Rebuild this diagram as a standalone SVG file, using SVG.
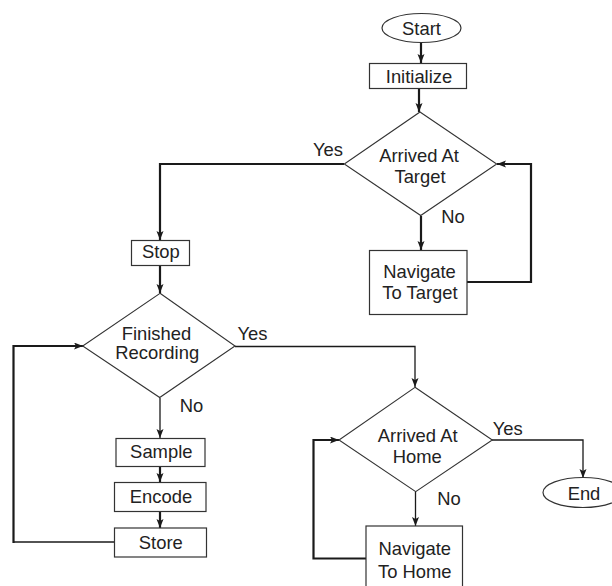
<svg xmlns="http://www.w3.org/2000/svg" width="612" height="586" viewBox="0 0 612 586">
<style>
  .box{fill:#fff;stroke:#333;stroke-width:1.2}
  .dia{fill:#fff;stroke:#333;stroke-width:1.1}
  .t{font-family:"Liberation Sans",Arial,sans-serif;font-size:18.4px;fill:#222;text-anchor:middle}
  .thick{fill:none;stroke:#1a1a1a;stroke-width:2.2}
  .thin{fill:none;stroke:#1a1a1a;stroke-width:1.3}
  .arr{marker-end:url(#ah)}
</style>
<defs>
  <marker id="ah" markerUnits="userSpaceOnUse" markerWidth="10" markerHeight="8" refX="9" refY="3.5" orient="auto">
    <path d="M0,0 L9,3.5 L0,7 L2,3.5 z" fill="#1a1a1a"/>
  </marker>
</defs>
<rect width="612" height="586" fill="#fff"/>
<g id="connectors">
  <line class="thick arr" x1="421" y1="43" x2="421" y2="63"/>
  <line class="thick arr" x1="419" y1="88" x2="419" y2="112"/>
  <polyline class="thick arr" points="344,164 160,164 160,240"/>
  <line class="thick arr" x1="421" y1="216" x2="421" y2="250"/>
  <polyline class="thick arr" points="467,282 531,282 531,164 497,164"/>
  <line class="thick arr" x1="160" y1="265" x2="160" y2="293"/>
  <polyline class="thin arr" points="235,346.5 415,346.5 415,387"/>
  <line class="thin arr" x1="160" y1="398" x2="160" y2="438"/>
  <line class="thick arr" x1="160" y1="467" x2="160" y2="482"/>
  <line class="thick arr" x1="160" y1="512" x2="160" y2="528"/>
  <polyline class="thin" points="114,542 13.5,542"/>
  <polyline class="thick arr" points="13.5,543 13.5,346 83,346"/>
  <polyline class="thin arr" points="492,440 583,440 583,478"/>
  <line class="thin arr" x1="415.5" y1="492" x2="415.5" y2="526"/>
  <polyline class="thick arr" points="366,558.5 313.5,558.5 313.5,440 339,440"/>
</g>
<g id="start">
  <ellipse cx="421.5" cy="28" rx="39.5" ry="14.5" class="box"/>
  <text class="t" x="421.5" y="35">Start</text>
</g>
<g id="initialize">
  <rect x="369.5" y="63.5" width="97" height="25" class="box"/>
  <text class="t" x="419" y="82.5">Initialize</text>
</g>
<g id="arrived-target">
  <polygon points="420,112 496.7,164 420.7,215.5 344.3,164" class="dia"/>
  <text class="t" x="419" y="161.5">Arrived At</text>
  <text class="t" x="420" y="183.3">Target</text>
</g>
<g id="label-yes1"><text class="t" x="328" y="155.5">Yes</text></g>
<g id="label-no1"><text class="t" x="453" y="222.5">No</text></g>
<g id="navigate-target">
  <rect x="369.5" y="250.5" width="97.5" height="64" class="box"/>
  <text class="t" x="419.5" y="278.3">Navigate</text>
  <text class="t" x="420" y="299">To Target</text>
</g>
<g id="stop">
  <rect x="131.5" y="240.5" width="58" height="25" class="box"/>
  <text class="t" x="160.8" y="258.3">Stop</text>
</g>
<g id="finished-recording">
  <polygon points="160,293.3 235,346 159.7,397.5 82.7,346" class="dia"/>
  <text class="t" x="156.5" y="339.5">Finished</text>
  <text class="t" x="157.2" y="359">Recording</text>
</g>
<g id="label-yes2"><text class="t" x="252.5" y="340">Yes</text></g>
<g id="label-no2"><text class="t" x="191.5" y="411.5">No</text></g>
<g id="sample">
  <rect x="116" y="438.5" width="89" height="28" class="box"/>
  <text class="t" x="161.3" y="458.3">Sample</text>
</g>
<g id="encode">
  <rect x="114.5" y="482.5" width="91.5" height="29" class="box"/>
  <text class="t" x="161" y="502.7">Encode</text>
</g>
<g id="store">
  <rect x="114.5" y="528" width="92" height="29" class="box"/>
  <text class="t" x="160.8" y="549.3">Store</text>
</g>
<g id="arrived-home">
  <polygon points="415,387.3 492.3,440 415.7,491.7 339,440" class="dia"/>
  <text class="t" x="417.7" y="441.7">Arrived At</text>
  <text class="t" x="417.2" y="463.3">Home</text>
</g>
<g id="label-yes3"><text class="t" x="507.7" y="435">Yes</text></g>
<g id="label-no3"><text class="t" x="449" y="505">No</text></g>
<g id="navigate-home">
  <rect x="366" y="526" width="96.5" height="64" class="box"/>
  <text class="t" x="414.8" y="555">Navigate</text>
  <text class="t" x="414.8" y="578.3">To Home</text>
</g>
<g id="end">
  <ellipse cx="583" cy="492.5" rx="40" ry="15" class="box"/>
  <text class="t" x="584" y="500">End</text>
</g>
</svg>
